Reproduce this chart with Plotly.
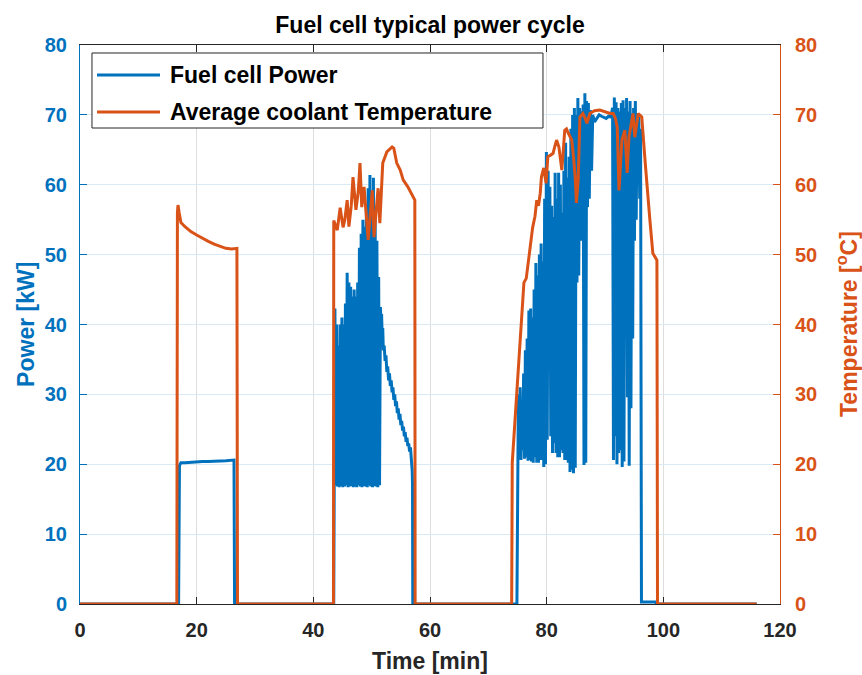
import plotly.graph_objects as go

# ---- data: time [min], fuel cell power [kW], average coolant temperature [degC]
power_t = [
    0, 16.9, 17.05, 17.3, 18, 19, 20, 21, 22, 23, 24, 25, 26.4, 26.5,
    43.5, 43.6, 43.7,
    43.85, 44.0, 44.15, 44.3, 44.45, 44.6, 44.75, 44.9, 45.05, 45.2, 45.35, 45.5,
    45.65, 45.8, 45.95, 46.1, 46.25, 46.4, 46.55, 46.7, 46.85, 47.0, 47.15, 47.3,
    47.45, 47.6, 47.75, 47.9, 48.05, 48.2, 48.35, 48.5, 48.65, 48.8, 48.95, 49.1,
    49.25, 49.4, 49.55, 49.7, 49.85, 50.0, 50.15, 50.3, 50.45, 50.6, 50.75, 50.9,
    51.05, 51.2, 51.35, 51.5,
    51.6, 51.7, 51.8, 51.9, 52.0, 52.15, 52.3, 52.45, 52.6, 52.75, 52.9, 53.05,
    53.2, 53.35, 53.5, 53.65, 53.8, 53.95, 54.1, 54.25, 54.4, 54.55, 54.7, 54.85,
    55.0, 55.15, 55.3, 55.45, 55.6, 55.75, 55.9, 56.05, 56.2, 56.35, 56.5, 56.65,
    56.8, 56.95, 57.0, 57.05,
    74.9, 75.0, 75.15, 75.3, 75.45, 75.6, 75.75, 75.9, 76.05, 76.2, 76.35, 76.5,
    76.65, 76.8, 76.95, 77.1, 77.25, 77.4, 77.55, 77.7, 77.85, 78.0, 78.15, 78.3,
    78.45, 78.6, 78.75, 78.9, 79.05, 79.2, 79.35, 79.5, 79.65, 79.8, 79.95, 80.1,
    80.25, 80.4, 80.55, 80.7, 80.85, 81.0, 81.15, 81.3, 81.45, 81.6, 81.75, 81.9,
    82.05, 82.2, 82.35, 82.5, 82.65, 82.8, 82.95, 83.1, 83.25, 83.4, 83.55, 83.7,
    83.85, 84.0, 84.15, 84.3, 84.45, 84.6, 84.75, 84.9, 85.05, 85.2, 85.35, 85.5,
    85.65, 85.8, 85.95, 86.1, 86.25, 86.4, 86.55, 86.7, 86.85, 87.0, 87.15, 87.3,
    87.5, 87.7, 87.9, 88.2, 88.6, 89.0, 89.4, 89.8, 90.2, 90.6, 91.0, 91.3,
    91.45, 91.6, 91.75, 91.9, 92.05, 92.2, 92.35, 92.5, 92.65, 92.8, 92.95, 93.1,
    93.25, 93.4, 93.55, 93.7, 93.85, 94.0, 94.15, 94.3, 94.45, 94.6, 94.75, 94.9,
    95.05, 95.2, 95.35, 95.5, 95.65, 95.8, 95.95, 96.1, 96.25, 98.7, 98.8, 116,
]
power_kw = [
    0, 0, 19.8, 20.2, 20.2, 20.3, 20.3, 20.4, 20.4, 20.4, 20.5, 20.5, 20.6, 0,
    0, 17, 42.3,
    17, 40, 16.8, 37, 16.7, 40, 16.9, 41, 16.7, 40, 16.8, 43,
    17, 47.4, 16.7, 46, 16.8, 45.4, 16.9, 44, 16.7, 45, 16.8, 44,
    16.7, 46, 17, 51, 16.8, 53, 16.7, 55, 16.9, 54, 16.8, 57,
    16.7, 59.5, 17, 61.4, 16.8, 59, 16.7, 61, 16.9, 55, 16.8, 52,
    16.7, 46.8, 17, 42.5,
    40.5, 41.5, 38.5, 39.5, 36.3, 37, 34.8, 35.6, 33.2, 34, 32, 33,
    31.2, 32, 30.3, 31, 29.2, 30, 28.3, 29, 27.3, 28, 26.4, 27.2,
    25.6, 26.2, 24.8, 25.4, 24, 24.6, 23.2, 23.8, 22.6, 23, 21.8, 22.4,
    21, 19, 17.3, 0,
    0, 21.5, 30, 21, 31, 20.6, 29, 22, 33, 20.8, 36.3, 21,
    38, 20.5, 42, 20.6, 42.3, 20.4, 41, 20.2, 45, 21, 48.8, 20.2,
    47, 20.2, 50, 20.6, 51.6, 20.6, 49, 19.6, 58, 20, 64.7, 23.5,
    62, 38, 59.7, 24, 57, 21.6, 55.4, 23, 61.7, 21.6, 58, 21,
    61.7, 21, 60, 22, 56, 21.6, 62, 20.6, 66, 20.6, 61, 20.2,
    64, 18.9, 68, 19.2, 70, 18.7, 71, 19.5, 70, 46, 72.4, 47,
    71, 52, 70.5, 56, 71.5, 19.9, 73.1, 20.2, 72, 56.8, 71.7, 58,
    70.7, 62, 70, 69, 69.5, 70, 69.8, 69.7, 69.5, 69.8, 69.7, 71,
    20.6, 72.5, 24, 71.8, 20, 71, 21.6, 70.5, 22, 71.7, 19.6, 72.1,
    20.4, 71, 39.6, 72.4, 29.6, 70.5, 19.8, 72, 28, 70.2, 38, 71,
    52, 72, 55, 70.2, 60, 70, 58, 68, 0.3, 0.3, 0, 0,
]

temp_t = [
    0, 16.6, 16.7, 16.8, 17.0, 17.3, 18, 19, 20, 21, 22, 23, 24, 25, 26, 26.9, 27.0,
    43.45, 43.5, 44.1, 44.6, 45.1, 45.4, 45.8, 46.1, 46.5, 46.8, 47.3, 47.7, 48.0,
    48.3, 48.7, 49.4, 50.1, 50.4, 51.1, 51.4, 51.9, 52.6, 53.5, 53.8, 54.3, 54.9,
    55.4, 56.2, 57.1, 57.4, 57.45,
    74.0, 74.1, 74.6, 75.1, 75.6, 76.1, 76.5, 76.8, 77.1, 77.6, 78.0, 78.3, 78.6,
    78.9, 79.1, 79.5, 79.9, 80.2, 80.6, 81.1, 81.4, 81.7, 82.1, 82.6, 83.1, 83.4,
    83.7, 84.3, 84.6, 84.9, 85.1, 85.4, 85.7, 86.2, 86.6, 86.9, 87.4, 88.2, 89.1,
    90.0, 90.9, 91.4, 91.8, 92.1, 92.4, 92.9, 93.4, 93.8, 94.1, 94.8, 95.1, 95.7,
    96.3, 96.9, 97.4, 97.7, 98.2, 98.9, 99.0, 116,
]
temp_c = [
    0, 0, 56, 57.1, 56, 54.6, 54, 53.3, 52.8, 52.3, 51.9, 51.5, 51.2, 50.9, 50.8, 50.9, 0,
    0, 54.9, 53.5, 56.7, 53.9, 55, 57.8, 54, 57, 61.1, 56.4, 59, 63.1,
    56.8, 59.7, 52.1, 59.2, 52.5, 59.5, 54.5, 63.1, 64.7, 65.4, 65.2, 63.1, 62.1,
    60.7, 59.7, 58.2, 57.8, 0,
    0, 20.2, 26.8, 32.5, 39.6, 46, 46.6, 48.5, 51, 53.9, 55.5, 57.8, 57,
    58.8, 61.1, 62.4, 60.2, 64, 64.2, 64.5, 65.5, 66.4, 65.4, 62.1, 67.8, 68,
    67.4, 66.4, 64, 61, 57.4, 60.7, 69.7, 70.2, 69.5, 68.8, 70.2, 70.6, 70.7,
    70.4, 70.2, 70.2, 69.5, 68.2, 59.2, 66.4, 67.8, 61.7, 66.8, 70.2, 66.8, 70.2,
    69.7, 63.1, 57.4, 54.9, 50.2, 49.2, 0, 0,
]

x_ticks = [0, 20, 40, 60, 80, 100, 120]
y_ticks = [0, 10, 20, 30, 40, 50, 60, 70, 80]

power_name = "Fuel cell Power"
temp_name = "Average coolant Temperature"
title_text = "Fuel cell typical power cycle"

BLUE = "#0072BD"
ORANGE = "#D95319"
DARK = "#262626"
FONT = "Liberation Sans, Arial, sans-serif"

fig = go.Figure()
fig.add_trace(go.Scatter(x=power_t, y=power_kw, mode="lines", name=power_name,
                         line=dict(color=BLUE, width=3), showlegend=False,
                         yaxis="y"))
fig.add_trace(go.Scatter(x=temp_t, y=temp_c, mode="lines", name=temp_name,
                         line=dict(color=ORANGE, width=3), showlegend=False,
                         yaxis="y2"))

tick_font = dict(family=FONT, size=20, weight="bold")

fig.update_layout(
    width=862, height=675,
    margin=dict(l=80, r=82, t=45, b=71),
    paper_bgcolor="white", plot_bgcolor="white",
    font=dict(family=FONT, color=DARK),
    title=dict(text=title_text, x=0.5, xref="paper", xanchor="center",
               y=1 - 25 / 675, yref="container", yanchor="middle",
               font=dict(family=FONT, size=23, weight="bold", color="#000000")),
    xaxis=dict(range=[0, 120], tickvals=x_ticks, ticktext=[str(v) for v in x_ticks],
               showgrid=True, gridcolor="#DEDEDE", gridwidth=1, zeroline=False,
               showline=True, linecolor=DARK, linewidth=1, mirror="ticks",
               ticks="inside", ticklen=7, tickcolor=DARK,
               tickfont=dict(color=DARK, **tick_font), ticklabelstandoff=8,
               layer="below traces"),
    yaxis=dict(range=[0, 80], tickvals=y_ticks, ticktext=[str(v) for v in y_ticks],
               showgrid=True, gridcolor="#D9EAF5", gridwidth=1, zeroline=False,
               showline=True, linecolor=BLUE, linewidth=1,
               ticks="inside", ticklen=7, tickcolor=BLUE,
               tickfont=dict(color=BLUE, **tick_font), ticklabelstandoff=8),
    yaxis2=dict(range=[0, 80], tickvals=y_ticks, ticktext=[str(v) for v in y_ticks],
                overlaying="y", side="right", showgrid=False, zeroline=False,
                showline=True, linecolor=ORANGE, linewidth=1,
                ticks="inside", ticklen=7, tickcolor=ORANGE,
                tickfont=dict(color=ORANGE, **tick_font), ticklabelstandoff=10),
)

# axis titles
label_font = dict(family=FONT, size=23, weight="bold")
fig.add_annotation(text="Time [min]", xref="paper", yref="paper", x=0.5, y=-0.102,
                   showarrow=False, xanchor="center", yanchor="middle",
                   font=dict(color=DARK, **label_font))
fig.add_annotation(text="Power [kW]", xref="paper", yref="paper", x=-0.078, y=0.5,
                   textangle=-90, showarrow=False, xanchor="center", yanchor="middle",
                   font=dict(color=BLUE, **label_font))
fig.add_annotation(text="Temperature [<sup>o</sup>C]", xref="paper", yref="paper",
                   x=1.095, y=0.5, textangle=-90, showarrow=False,
                   xanchor="center", yanchor="middle",
                   font=dict(color=ORANGE, **label_font))

# legend box drawn in paper coordinates
fig.add_shape(type="rect", xref="paper", yref="paper", x0=0.0171, x1=0.6614,
              y0=0.8515, y1=0.9857, line=dict(color=DARK, width=1),
              fillcolor="white", layer="above")
legend_rows = [(power_name, BLUE, 0.9463), (temp_name, ORANGE, 0.8801)]
for name, color, yy in legend_rows:
    fig.add_shape(type="line", xref="paper", yref="paper", x0=0.0243, x1=0.1143,
                  y0=yy, y1=yy, line=dict(color=color, width=3), layer="above")
    fig.add_annotation(text=name, xref="paper", yref="paper", x=0.1257, y=yy,
                       xanchor="left", yanchor="middle", showarrow=False,
                       font=dict(family=FONT, size=23, weight="bold", color="#000000"))

fig.write_html("out.html")
